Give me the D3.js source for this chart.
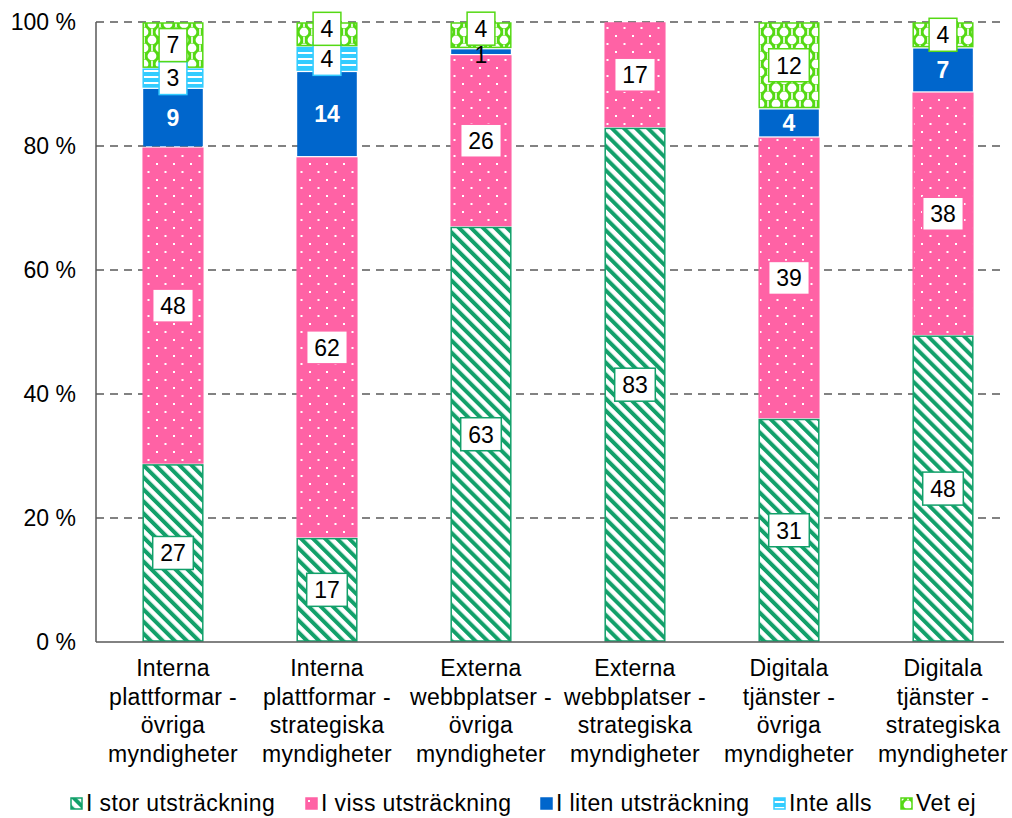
<!DOCTYPE html>
<html>
<head>
<meta charset="utf-8">
<script src="https://cdn.jsdelivr.net/npm/d3@7"></script>
<style>
  body { margin: 0; background: #fff; }
  svg { display: block; font-family: "Liberation Sans", Arial, sans-serif; }
</style>
</head>
<body>
<svg width="1012" height="818"></svg>
<script>
// categories, one entry per bar (already split into lines like the original)
const categories = [
  ["Interna", "plattformar -", "övriga", "myndigheter"],
  ["Interna", "plattformar -", "strategiska", "myndigheter"],
  ["Externa", "webbplatser -", "övriga", "myndigheter"],
  ["Externa", "webbplatser -", "strategiska", "myndigheter"],
  ["Digitala", "tjänster -", "övriga", "myndigheter"],
  ["Digitala", "tjänster -", "strategiska", "myndigheter"]
];
const seriesNames = ["I stor utsträckning", "I viss utsträckning", "I liten utsträckning", "Inte alls", "Vet ej"];

// counts per series (bars are drawn as share of the bar total)
const storValues     = [27, 17, 63, 83, 31, 48];
const vissValues     = [48, 62, 26, 17, 39, 38];
const litenValues    = [9, 14, 1, 0, 4, 7];
const inteAllsValues = [3, 4, 0, 0, 0, 0];
const vetEjValues    = [7, 4, 4, 0, 12, 4];

const yTicks = [0, 0.2, 0.4, 0.6, 0.8, 1];

const colors = {
  "I stor utsträckning": "#12a06a",
  "I viss utsträckning": "#ff62a5",
  "I liten utsträckning": "#0066cc",
  "Inte alls": "#33ccff",
  "Vet ej": "#55d914"
};

const svg = d3.select("svg");
const defs = svg.append("defs");

// pattern fills
const pStor = defs.append("pattern").attr("id", "p0")
  .attr("patternUnits", "userSpaceOnUse").attr("width", 8.5).attr("height", 8.5)
  .attr("patternTransform", "rotate(-45)");
pStor.append("rect").attr("width", 8.5).attr("height", 8.5).attr("fill", "#fff");
pStor.append("rect").attr("width", 4).attr("height", 8.5).attr("fill", colors[seriesNames[0]]);

const pViss = defs.append("pattern").attr("id", "p1")
  .attr("patternUnits", "userSpaceOnUse").attr("width", 17).attr("height", 16);
pViss.append("rect").attr("width", 17).attr("height", 16).attr("fill", colors[seriesNames[1]]);
pViss.append("rect").attr("x", 3).attr("y", 3).attr("width", 2).attr("height", 2).attr("fill", "#fff");
pViss.append("rect").attr("x", 11.5).attr("y", 11).attr("width", 2).attr("height", 2).attr("fill", "#fff");

const pLiten = defs.append("pattern").attr("id", "p2")
  .attr("patternUnits", "userSpaceOnUse").attr("width", 4).attr("height", 4);
pLiten.append("rect").attr("width", 4).attr("height", 4).attr("fill", colors[seriesNames[2]]);

const pInte = defs.append("pattern").attr("id", "p3")
  .attr("patternUnits", "userSpaceOnUse").attr("width", 6).attr("height", 6);
pInte.append("rect").attr("width", 6).attr("height", 6).attr("fill", "#fff");
pInte.append("rect").attr("width", 6).attr("height", 4).attr("fill", colors[seriesNames[3]]);

const pVet = defs.append("pattern").attr("id", "p4")
  .attr("patternUnits", "userSpaceOnUse").attr("width", 16).attr("height", 16);
pVet.append("rect").attr("width", 16).attr("height", 16).attr("fill", colors[seriesNames[4]]);
[[0, 0], [16, 0], [0, 16], [16, 16], [8, 8]].forEach(c => {
  pVet.append("circle").attr("cx", c[0]).attr("cy", c[1]).attr("r", 4.4).attr("fill", "#fff");
});
[[8, 0], [0, 8], [16, 8], [8, 16]].forEach(c => {
  pVet.append("rect").attr("x", c[0] - 0.8).attr("y", c[1] - 3).attr("width", 1.6).attr("height", 6).attr("fill", "#fff");
});

// data table for the stack
const table = categories.map((c, i) => ({
  key: i,
  "I stor utsträckning": storValues[i],
  "I viss utsträckning": vissValues[i],
  "I liten utsträckning": litenValues[i],
  "Inte alls": inteAllsValues[i],
  "Vet ej": vetEjValues[i]
}));

const stack = d3.stack().keys(seriesNames).offset(d3.stackOffsetExpand);
const stacked = stack(table);

const x = d3.scaleBand()
  .domain(d3.range(categories.length))
  .range([96, 1020])
  .paddingInner(0.6)
  .paddingOuter(0.3);

const y = d3.scaleLinear().domain([0, 1]).range([642, 22]);

// gridlines
svg.append("g").selectAll("line")
  .data(yTicks.filter(t => t > 0))
  .enter().append("line")
  .attr("x1", 96).attr("x2", 1004)
  .attr("y1", d => y(d)).attr("y2", d => y(d))
  .attr("stroke", "#595959").attr("stroke-width", 1.5)
  .attr("stroke-dasharray", "8,6");

// y tick labels
svg.append("g").selectAll("text")
  .data(yTicks)
  .enter().append("text")
  .attr("x", 76).attr("y", d => y(d))
  .attr("dy", "0.35em")
  .attr("text-anchor", "end")
  .style("font-size", "23px")
  .text(d => Math.round(d * 100) + " %");

// bars
const layers = svg.append("g").selectAll("g")
  .data(stacked)
  .enter().append("g");

layers.selectAll("rect")
  .data(d => d.map(p => ({ p: p, key: d.key, idx: d.index })))
  .enter().append("rect")
  .filter(d => d.p[1] - d.p[0] > 0)
  .attr("x", d => x(d.p.data.key) + 1)
  .attr("width", x.bandwidth() - 2)
  .attr("y", d => y(d.p[1]) + 1)
  .attr("height", d => Math.max(0.5, y(d.p[0]) - y(d.p[1]) - 2))
  .attr("fill", d => "url(#p" + d.idx + ")")
  .attr("stroke", d => colors[d.key])
  .attr("stroke-width", d => d.idx === 2 ? 0 : 1.5);

// axes lines
svg.append("line").attr("x1", 96).attr("x2", 96).attr("y1", 22).attr("y2", 642)
  .attr("stroke", "#595959").attr("stroke-width", 1.5);
svg.append("line").attr("x1", 96).attr("x2", 1004).attr("y1", 642).attr("y2", 642)
  .attr("stroke", "#595959").attr("stroke-width", 1.5);

// data labels, placed bottom-up per bar, pushed up when they overlap
const labelGroup = svg.append("g");
categories.forEach((c, ci) => {
  let prevTop = Infinity;
  stacked.forEach(layer => {
    const p = layer[ci];
    const v = p.data[layer.key];
    if (!v) return;
    const segH = y(p[0]) - y(p[1]);
    const boxed = layer.index !== 2;
    const thin = !boxed && segH < 18;
    const h = boxed ? 33 : (thin ? 25 : 18);
    const slack = boxed ? 3 : 0;
    let cy = (y(p[0]) + y(p[1])) / 2 + (thin ? 3 : 0);
    if (cy + h / 2 > prevTop + slack) cy = prevTop + slack - h / 2;
    prevTop = cy - h / 2;
    const cx = x(ci) + x.bandwidth() / 2;
    const g = labelGroup.append("g");
    const t = g.append("text")
      .attr("x", cx).attr("y", cy).attr("dy", "0.36em")
      .attr("text-anchor", "middle")
      .style("font-size", "23px")
      .text(v);
    if (boxed) {
      const w = t.node().getComputedTextLength() + 15;
      g.insert("rect", "text")
        .attr("x", cx - w / 2).attr("y", cy - h / 2)
        .attr("width", w).attr("height", h)
        .attr("fill", "#fff")
        .attr("stroke", colors[layer.key]).attr("stroke-width", 1.5);
      t.attr("fill", "#000");
    } else if (thin) {
      t.attr("fill", "#000");
    } else {
      t.attr("fill", "#fff").style("font-weight", "bold");
    }
  });
});

// category labels
const cat = svg.append("g").selectAll("text")
  .data(categories)
  .enter().append("text")
  .attr("text-anchor", "middle")
  .style("font-size", "23px")
  .style("letter-spacing", "0.3px");
cat.selectAll("tspan")
  .data((d, i) => d.map(line => ({ line: line, i: i })))
  .enter().append("tspan")
  .attr("x", d => x(d.i) + x.bandwidth() / 2)
  .attr("y", (d, j) => 676 + j * 28.5)
  .text(d => d.line);

// legend
const legendX = [70, 305, 540, 773, 900];
const legend = svg.append("g").selectAll("g")
  .data(seriesNames)
  .enter().append("g")
  .attr("transform", (d, i) => "translate(" + legendX[i] + ",797)");
legend.append("rect")
  .attr("x", 1).attr("y", 1).attr("width", 11).attr("height", 11)
  .attr("fill", (d, i) => "url(#p" + i + ")")
  .attr("stroke", d => colors[d]).attr("stroke-width", 1.5);
legend.append("text")
  .attr("x", 16).attr("y", 14)
  .style("font-size", "23px")
  .style("letter-spacing", "0.4px")
  .text(d => d);
</script>
</body>
</html>
